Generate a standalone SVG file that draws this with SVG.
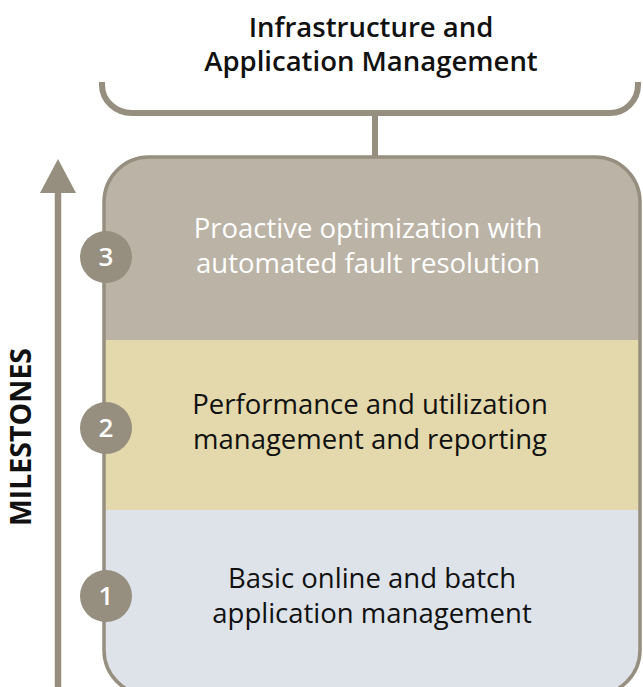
<svg xmlns="http://www.w3.org/2000/svg" width="643" height="687" viewBox="0 0 643 687">
<style>
.line{stroke:#968E7E;fill:none}
.num{fill:#968E7E}
.numt{font-family:"Open Sans",Lato,sans-serif;font-size:26px;font-weight:600;fill:#fff;text-anchor:middle}
.t{font-family:"Open Sans",Lato,sans-serif;font-size:27.5px;text-anchor:middle}
</style>
<defs>
<clipPath id="bx"><rect x="104" y="157" width="536" height="538" rx="45"/></clipPath>
</defs>
<g id="title">
<text class="t" x="371" y="37" style="font-weight:600;font-size:27.5px" fill="#111">Infrastructure and</text>
<text class="t" x="371" y="71" style="font-weight:600;font-size:27.5px" fill="#111">Application Management</text>
</g>
<g id="connectors">
<path class="line" stroke-width="6" d="M102,82 V85 A30,28 0 0 0 132,113 H610 A28,28 0 0 0 638,85 V82"/>
<line class="line" stroke-width="6" x1="375" y1="113" x2="375" y2="157"/>
<line class="line" stroke-width="6.5" x1="58" y1="190" x2="58" y2="687"/>
<polygon class="num" points="58,159 40,193 76,193"/>
</g>
<g id="box">
<g clip-path="url(#bx)">
<rect x="104" y="157" width="536" height="183" fill="#BBB3A6"/>
<rect x="104" y="340" width="536" height="170" fill="#E3D9AC"/>
<rect x="104" y="510" width="536" height="185" fill="#DEE3EA"/>
</g>
<rect x="104" y="157" width="536" height="538" rx="45" fill="none" stroke="#968E7E" stroke-width="3.5"/>
</g>
<g id="m3">
<text class="t" x="368" y="238" fill="#fff">Proactive optimization with</text>
<text class="t" x="368" y="273" fill="#fff">automated fault resolution</text>
<circle class="num" cx="106" cy="257" r="26"/>
<text class="numt" x="106" y="266">3</text>
</g>
<g id="m2">
<text class="t" x="370" y="414" fill="#111">Performance and utilization</text>
<text class="t" x="370" y="449" fill="#111">management and reporting</text>
<circle class="num" cx="106" cy="428" r="26"/>
<text class="numt" x="106" y="437">2</text>
</g>
<g id="m1">
<text class="t" x="372" y="588" fill="#111">Basic online and batch</text>
<text class="t" x="372" y="623" fill="#111">application management</text>
<circle class="num" cx="106" cy="596" r="26"/>
<text class="numt" x="106" y="605">1</text>
</g>
<g id="axis-label">
<text class="t" transform="translate(31,437) rotate(-90)" x="0" y="0" style="font-weight:700;font-size:28.5px" fill="#111">MILESTONES</text>
</g>
</svg>
